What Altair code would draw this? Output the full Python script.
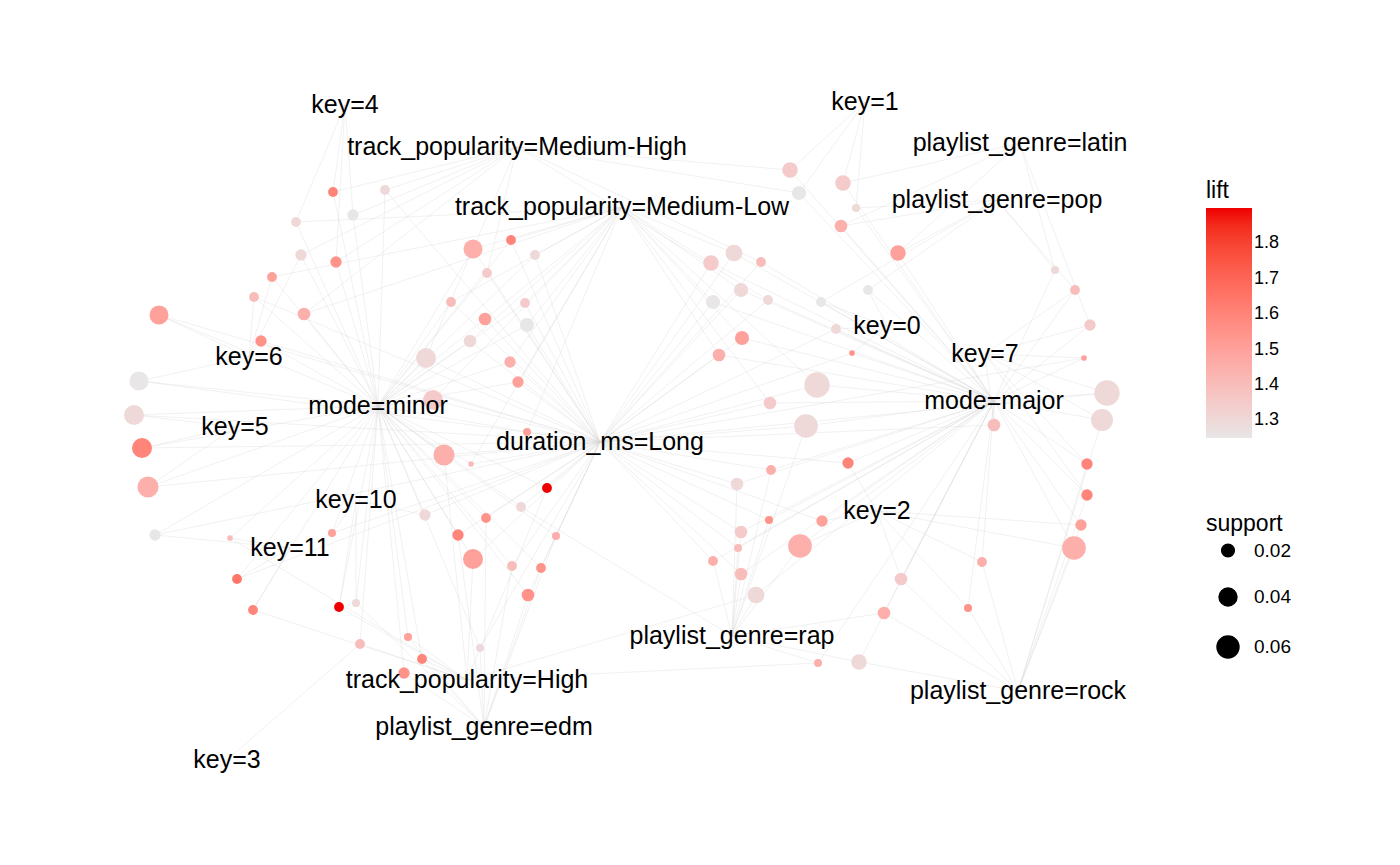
import altair as alt
import pandas as pd

# item labels (items of the association rules) and their positions in the layout
item_codes = ["k4", "mh", "ml", "k1", "la", "po", "k6", "k5", "mi", "dl", "k0", "k7", "ma",
              "k10", "k2", "k11", "ra", "hi", "ed", "ro", "k3"]
item_labels = ["key=4", "track_popularity=Medium-High", "track_popularity=Medium-Low", "key=1",
               "playlist_genre=latin", "playlist_genre=pop", "key=6", "key=5", "mode=minor",
               "duration_ms=Long", "key=0", "key=7", "mode=major", "key=10", "key=2", "key=11",
               "playlist_genre=rap", "track_popularity=High", "playlist_genre=edm",
               "playlist_genre=rock", "key=3"]
item_x = [345, 517, 622, 865, 1020, 997, 249, 235, 378, 600, 887, 985, 994, 356, 877, 290, 732, 467, 484, 1018, 227]
item_y = [105, 147, 207, 102, 143, 200, 357, 427, 406, 442, 326, 354, 401, 500, 511, 548, 636, 680, 727, 691, 760]

# rules: layout position, support, lift, and items they connect to
rule_x = [333, 385, 353, 296, 473, 511, 487, 535, 336, 301, 272, 254, 304, 159, 451, 485, 525, 527, 261, 470,
          426, 510, 518, 139, 433, 134, 142, 148, 444, 471, 527, 547, 486, 521, 556, 458, 332, 425, 155, 230,
          473, 512, 541, 237, 253, 339, 356, 528, 360, 408, 422, 404, 480,
          790, 843, 799, 841, 856, 898, 734, 711, 761, 741, 713, 768, 821, 868, 742, 836, 719, 852, 817, 770,
          806, 1075, 1090, 1055, 1084, 1107, 1102, 994, 848, 771, 737, 1087, 1087, 1081, 1074, 822, 769, 741,
          800, 738, 713, 741, 756, 982, 901, 884, 968, 859, 818]
rule_y = [192, 190, 215, 222, 249, 240, 273, 255, 262, 255, 277, 297, 314, 315, 302, 319, 303, 325, 341, 341,
          358, 362, 382, 381, 400, 415, 448, 487, 455, 464, 432, 488, 518, 507, 536, 535, 533, 515, 535, 538,
          559, 566, 568, 579, 610, 607, 603, 595, 644, 637, 659, 673, 648,
          170, 183, 193, 226, 208, 253, 253, 263, 262, 290, 302, 300, 302, 290, 338, 329, 355, 353, 385, 403,
          426, 290, 325, 270, 358, 393, 420, 425, 463, 470, 484, 464, 495, 525, 548, 521, 520, 532,
          546, 548, 561, 574, 595, 562, 579, 613, 608, 662, 663]
rule_support = [0.012, 0.012, 0.016, 0.012, 0.045, 0.012, 0.012, 0.012, 0.016, 0.016, 0.012, 0.012, 0.02, 0.045,
                0.012, 0.02, 0.012, 0.025, 0.016, 0.02, 0.05, 0.016, 0.016, 0.045, 0.05, 0.05, 0.05, 0.055,
                0.055, 0.004, 0.008, 0.012, 0.012, 0.012, 0.008, 0.016, 0.008, 0.016, 0.016, 0.004,
                0.05, 0.012, 0.012, 0.012, 0.012, 0.012, 0.008, 0.02, 0.012, 0.008, 0.012, 0.016, 0.008,
                0.03, 0.03, 0.025, 0.02, 0.008, 0.03, 0.035, 0.03, 0.012, 0.025, 0.025, 0.012, 0.012, 0.012,
                0.025, 0.012, 0.02, 0.004, 0.08, 0.02, 0.07, 0.012, 0.016, 0.008, 0.004, 0.08, 0.06, 0.02,
                0.016, 0.012, 0.02, 0.016, 0.016, 0.016, 0.07, 0.016, 0.008, 0.02, 0.07, 0.008, 0.012, 0.02,
                0.035, 0.012, 0.02, 0.02, 0.008, 0.03, 0.008]
rule_lift = [1.6, 1.3, 1.25, 1.3, 1.45, 1.6, 1.35, 1.3, 1.55, 1.3, 1.5, 1.4, 1.45, 1.5, 1.4, 1.5, 1.35, 1.25,
             1.55, 1.3, 1.3, 1.45, 1.5, 1.25, 1.35, 1.3, 1.6, 1.45, 1.45, 1.4, 1.5, 1.9, 1.55, 1.3, 1.45, 1.6,
             1.5, 1.3, 1.25, 1.4, 1.5, 1.4, 1.55, 1.65, 1.6, 1.9, 1.3, 1.55, 1.4, 1.5, 1.6, 1.55, 1.3,
             1.35, 1.35, 1.25, 1.45, 1.3, 1.5, 1.3, 1.35, 1.4, 1.3, 1.25, 1.3, 1.25, 1.25, 1.5, 1.3, 1.45,
             1.55, 1.3, 1.35, 1.3, 1.4, 1.35, 1.3, 1.5, 1.3, 1.3, 1.4, 1.6, 1.45, 1.3, 1.6, 1.6, 1.5, 1.45,
             1.5, 1.55, 1.35, 1.45, 1.4, 1.45, 1.4, 1.3, 1.45, 1.35, 1.45, 1.55, 1.3, 1.45]
rule_items = ["k4|mi|mh", "mh|mi|dl", "k4|mi|mh", "k4|mi|ml", "ml|dl|mi", "ml|dl|mi", "mh|mi|dl", "ml|dl|mi",
              "k4|mi|mh", "k6|mi|mh", "k6|mi|ml", "k6|mi|dl", "mh|mi|ml", "k6|mi|dl", "ml|mi|dl", "ml|mi|dl",
              "ml|dl|mi", "ml|mi|dl", "k6|mi|dl", "ml|mi|dl", "mi|dl|mh", "ml|dl|mi", "ml|dl|mi", "k6|mi|dl",
              "mi|dl|ml", "k5|mi|dl", "k5|mi|dl", "k5|mi|dl", "mi|dl|hi", "mi|dl|ml", "dl|mi|ml", "dl|mi|hi",
              "dl|mi|ed", "dl|mi|ra", "dl|mi|ed", "dl|mi|ed", "k10|mi|dl", "k10|mi|dl", "k11|mi|dl",
              "k11|mi|hi", "hi|mi|dl", "ed|mi|dl", "ed|mi|dl", "k11|mi|dl", "k11|mi|hi", "k10|mi|hi",
              "k10|mi|ed", "ed|dl|mi", "hi|mi|k3", "hi|mi|ed", "ed|mi|hi", "hi|mi|ed", "ed|dl|mi",
              "k1|ma|mh", "la|ma|k1", "k1|ma|mh", "po|ma|la", "k1|ma|po", "po|ma|la", "ml|ma|dl", "ml|ma|dl",
              "mh|ma|dl", "ml|ma|dl", "ml|ma|dl", "mh|ma|dl", "k0|ma|po", "po|ma|k0", "ml|ma|dl", "k0|ma|dl",
              "dl|ma|ml", "k0|ma|dl", "dl|ma|ml", "dl|ma|ml", "dl|ma|ra", "k7|ma|po", "k7|ma|la", "po|ma|la",
              "k7|ma|dl", "k7|ma|dl", "k7|ma|ro", "k7|ma|dl", "k2|ma|dl", "dl|ma|ra", "dl|ma|ra", "ro|ma|k7",
              "ro|ma|k7", "ro|ma|k2", "ro|ma|k2", "k2|ma|dl", "ra|ma|dl", "ra|ma|dl", "k2|ma|ra", "ra|ma|dl",
              "ra|ma|dl", "ra|ma|dl", "ra|ma|hi", "ro|ma|k2", "k2|ma|ro", "ra|ma|ro", "ro|ma|k2", "ra|ma|ro",
              "ra|ma|hi"]

items = pd.DataFrame({"code": item_codes, "label": item_labels, "x": item_x, "y": item_y})
rules = pd.DataFrame({"x": rule_x, "y": rule_y, "support": rule_support, "lift": rule_lift})
pos = items.set_index("code")
edge_rows = []
for rx, ry, its in zip(rule_x, rule_y, rule_items):
    for c in its.split("|"):
        edge_rows.append({"x": rx, "y": ry, "x2": pos.loc[c, "x"], "y2": pos.loc[c, "y"]})
edges = pd.DataFrame(edge_rows)

xs = alt.Scale(domain=[8, 1392], nice=False, zero=False)
ys = alt.Scale(domain=[857, 8], nice=False, zero=False)

edge_layer = alt.Chart(edges).mark_rule(color="#d6d6d6", strokeWidth=1, opacity=0.35).encode(
    x=alt.X("x:Q", scale=xs, axis=None), y=alt.Y("y:Q", scale=ys, axis=None),
    x2="x2:Q", y2="y2:Q")

rule_layer = alt.Chart(rules).mark_circle(opacity=1).encode(
    x=alt.X("x:Q", scale=xs, axis=None), y=alt.Y("y:Q", scale=ys, axis=None),
    size=alt.Size("support:Q", scale=alt.Scale(domain=[0, 0.07], range=[0, 560]),
                  legend=alt.Legend(title="support", values=[0.02, 0.04, 0.06], orient="none",
                                    legendX=1198, legendY=505, symbolFillColor="black",
                                    symbolStrokeColor="black", symbolOpacity=1, titleFontSize=23,
                                    titleFontWeight="normal", labelFontSize=19, rowPadding=24,
                                    symbolOffset=10, labelOffset=14)),
    color=alt.Color("lift:Q", scale=alt.Scale(domain=[1.25, 1.9], range=["#e8e6e6", "#ee0000"]),
                    legend=alt.Legend(title="lift", orient="none", legendX=1198, legendY=172,
                                      gradientLength=230, gradientThickness=46, values=[1.3, 1.4, 1.5, 1.6, 1.7, 1.8],
                                      titleFontSize=23, titleFontWeight="normal", labelFontSize=18,
                                      direction="vertical")),
    order=alt.Order("support:Q", sort="descending"))

text_layer = alt.Chart(items).mark_text(fontSize=25, font="Liberation Sans", color="black").encode(
    x=alt.X("x:Q", scale=xs, axis=None), y=alt.Y("y:Q", scale=ys, axis=None), text="label:N")

chart = alt.layer(edge_layer, rule_layer, text_layer).properties(
    width=1384, height=849, autosize=alt.AutoSizeParams(type="none"), padding=0
).configure_view(stroke=None).configure_legend(labelFont="Liberation Sans", titleFont="Liberation Sans")

chart.save("out.html", embed_options={"renderer": "svg", "actions": False})
